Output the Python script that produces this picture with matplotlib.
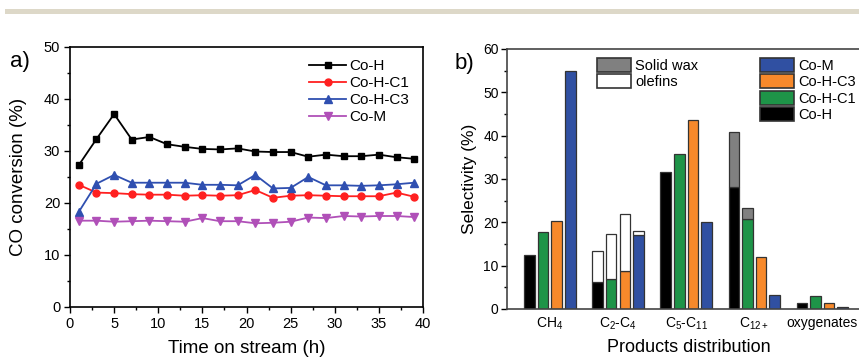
import numpy as np
import matplotlib
matplotlib.use('Agg')
import matplotlib.pyplot as plt
from matplotlib.patches import Rectangle, Patch
from matplotlib.ticker import MultipleLocator

plt.rcParams['font.family'] = ['Liberation Sans', 'DejaVu Sans']
plt.rcParams['mathtext.fontset'] = 'custom'
plt.rcParams['mathtext.rm'] = 'Liberation Sans'
plt.rcParams['mathtext.it'] = 'Liberation Sans:italic'
plt.rcParams['mathtext.bf'] = 'Liberation Sans:bold'

# panel a: CO conversion vs time on stream
hours = [1, 3, 5, 7, 9, 11, 13, 15, 17, 19, 21, 23, 25, 27, 29, 31, 33, 35, 37, 39]
co_h = [27.3, 32.3, 37.1, 32.2, 32.7, 31.3, 30.8, 30.4, 30.3, 30.5,
        29.9, 29.8, 29.8, 28.9, 29.3, 29.0, 29.0, 29.3, 28.8, 28.5]
co_h_c1 = [23.5, 22.0, 21.9, 21.7, 21.6, 21.6, 21.4, 21.5, 21.4, 21.5,
           22.5, 21.0, 21.4, 21.5, 21.4, 21.3, 21.3, 21.3, 22.0, 21.2]
co_h_c3 = [18.3, 23.7, 25.4, 23.9, 23.9, 23.9, 23.9, 23.5, 23.5, 23.4,
           25.4, 22.8, 22.9, 25.0, 23.4, 23.4, 23.3, 23.4, 23.6, 23.9]
co_m = [16.6, 16.6, 16.4, 16.5, 16.6, 16.5, 16.4, 17.1, 16.5, 16.5,
        16.1, 16.2, 16.4, 17.2, 17.1, 17.5, 17.4, 17.5, 17.5, 17.3]

# panel b: product selectivity
products = ['CH$_\\mathrm{4}$', 'C$_\\mathrm{2}$-C$_\\mathrm{4}$',
            'C$_\\mathrm{5}$-C$_\\mathrm{11}$', 'C$_\\mathrm{12+}$', 'oxygenates']
catalysts = ['Co-H', 'Co-H-C1', 'Co-H-C3', 'Co-M']
# base part of each bar
base = {
    'Co-H':    [12.5, 6.2, 31.7, 28.2, 1.3],
    'Co-H-C1': [17.7, 7.0, 35.8, 20.8, 2.9],
    'Co-H-C3': [20.2, 8.8, 43.7, 12.1, 1.4],
    'Co-M':    [55.0, 17.0, 20.0, 3.3, 0.4],
}
# olefins on top of C2-C4
olefins = {'Co-H': 7.1, 'Co-H-C1': 10.4, 'Co-H-C3': 13.2, 'Co-M': 1.0}
# solid wax on top of C12+
wax = {'Co-H': 12.7, 'Co-H-C1': 2.4, 'Co-H-C3': 0.0, 'Co-M': 0.0}

bar_colors = {'Co-H': '#000000', 'Co-H-C1': '#1e9448', 'Co-H-C3': '#f7892b', 'Co-M': '#3050a2'}

W, H = 859, 358
fig = plt.figure(figsize=(W / 100, H / 100), dpi=100)
fig.patches.append(Rectangle((5 / W, 1 - 14 / H), 1, 5 / H, transform=fig.transFigure,
                             facecolor='#ddd8c8', edgecolor='none'))

# ---- panel a ----
ax = fig.add_axes([70 / W, 1 - 307 / H, 353 / W, 260 / H])
ax.plot(hours, co_h, color='black', marker='s', ms=4.5, lw=1.3, label='Co-H')
ax.plot(hours, co_h_c1, color='#ff2020', marker='o', ms=5, lw=1.3, label='Co-H-C1')
ax.plot(hours, co_h_c3, color='#2f4fb0', marker='^', ms=5.5, lw=1.3, label='Co-H-C3')
ax.plot(hours, co_m, color='#b050b8', marker='v', ms=5.5, lw=1.3, label='Co-M')
ax.set_xlim(0, 40)
ax.set_ylim(0, 50)
ax.xaxis.set_major_locator(MultipleLocator(5))
ax.xaxis.set_minor_locator(MultipleLocator(2.5))
ax.yaxis.set_major_locator(MultipleLocator(10))
ax.yaxis.set_minor_locator(MultipleLocator(5))
ax.tick_params(which='major', direction='out', length=4, width=1, labelsize=10.5, pad=3)
ax.tick_params(which='minor', direction='out', length=2.5, width=1)
for s in ax.spines.values():
    s.set_linewidth(1.2)
ax.set_xlabel('Time on stream (h)', fontsize=13.5, labelpad=7)
ax.set_ylabel('CO conversion (%)', fontsize=13.5, labelpad=12)
ax.legend(loc='upper right', frameon=False, fontsize=11, handlelength=2.4,
          handletextpad=0.2, labelspacing=0.2, borderaxespad=0.4,
          bbox_to_anchor=(0.995, 1.0))
fig.text(10 / W, 1 - 62 / H, 'a)', fontsize=16, va='center', ha='left')

# ---- panel b ----
bx = fig.add_axes([507 / W, 1 - 309 / H, 363 / W, 260 / H])
x = np.arange(len(products))
step = 0.2
width = 0.155
edge = '#333333'
for i, cat in enumerate(catalysts):
    pos = x + (i - 1.5) * step
    bx.bar(pos, base[cat], width, color=bar_colors[cat], edgecolor=edge, lw=0.9, zorder=2)
    bx.bar(pos[1], olefins[cat], width, bottom=base[cat][1], color='white',
           edgecolor=edge, lw=0.9, zorder=2)
    if wax[cat] > 0:
        bx.bar(pos[3], wax[cat], width, bottom=base[cat][3], color='#808080',
               edgecolor=edge, lw=0.9, zorder=2)
bx.set_xlim(-0.63, 4.7)
bx.set_ylim(0, 60)
bx.set_xticks(x)
bx.set_xticklabels(products, fontsize=10)
bx.tick_params(axis='x', length=0, pad=5)
bx.yaxis.set_major_locator(MultipleLocator(10))
bx.yaxis.set_minor_locator(MultipleLocator(5))
bx.tick_params(axis='y', which='major', direction='out', length=4, width=1, labelsize=10, pad=2)
bx.tick_params(axis='y', which='minor', direction='out', length=2.5, width=1)
for s in bx.spines.values():
    s.set_linewidth(1.2)
    s.set_color('#444444')
bx.spines['right'].set_visible(False)
bx.set_xlabel('Products distribution', fontsize=13, labelpad=5)
bx.set_ylabel('Selectivity (%)', fontsize=12.5, labelpad=4)

leg_kw = dict(loc='upper left', frameon=False, fontsize=10.5, handlelength=2.3,
              handleheight=1.1, handletextpad=0.3, labelspacing=0.1,
              borderaxespad=0, borderpad=0)
leg1 = bx.legend(handles=[Patch(facecolor='#808080', edgecolor=edge, lw=1.2, label='Solid wax'),
                          Patch(facecolor='white', edgecolor=edge, lw=1.2, label='olefins')],
                 bbox_to_anchor=(90 / 363, 1 - 9 / 260), **leg_kw)
bx.add_artist(leg1)
bx.legend(handles=[Patch(facecolor=bar_colors[c], edgecolor=edge, lw=1.2, label=c)
                   for c in ['Co-M', 'Co-H-C3', 'Co-H-C1', 'Co-H']],
          bbox_to_anchor=(253 / 363, 1 - 9 / 260), **leg_kw)
fig.text(455 / W, 1 - 64 / H, 'b)', fontsize=16, va='center', ha='left')

fig.savefig('out.png', dpi=100)
